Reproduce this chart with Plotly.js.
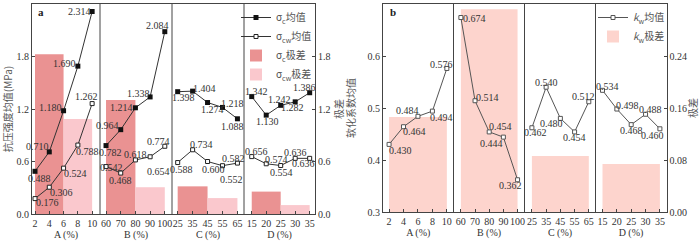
<!DOCTYPE html>
<html><head><meta charset="utf-8">
<script src="https://cdn.plot.ly/plotly-3.0.1.min.js"></script>
<style>html,body{margin:0;padding:0;background:#fff}#chart{width:700px;height:242px}</style>
</head><body><div id="chart"></div>
<script>
// ---- data ----
const levelsA = [2, 4, 6, 8, 10];
const levelsB = [60, 70, 80, 90, 100];
const levelsC = [25, 35, 45, 55, 65];
const levelsD = [15, 20, 25, 30, 35];
const factorNames = ['A (%)', 'B (%)', 'C (%)', 'D (%)'];

const scMeanA = [0.488, 0.710, 1.180, 1.690, 2.314];
const scMeanB = [0.782, 0.964, 1.214, 1.338, 2.084];
const scMeanC = [1.398, 1.404, 1.274, 1.218, 1.088];
const scMeanD = [1.342, 1.130, 1.242, 1.282, 1.386];

const scwMeanA = [0.176, 0.306, 0.524, 0.788, 1.262];
const scwMeanB = [0.542, 0.468, 0.618, 0.654, 0.774];
const scwMeanC = [0.588, 0.734, 0.600, 0.552, 0.582];
const scwMeanD = [0.656, 0.574, 0.554, 0.636, 0.636];

const kwMeanA = [0.430, 0.464, 0.484, 0.494, 0.576];
const kwMeanB = [0.674, 0.514, 0.454, 0.444, 0.362];
const kwMeanC = [0.462, 0.540, 0.480, 0.454, 0.512];
const kwMeanD = [0.534, 0.498, 0.468, 0.488, 0.460];

const scRange = [1.826, 1.302, 0.316, 0.256];
const scwRange = [1.086, 0.306, 0.182, 0.102];
const kwRange = [0.146, 0.312, 0.086, 0.074];

// ---- label offsets in px (style only): [dx, dy(down)] ----
const scOff = [
  [[4,7],[-12,-5],[-13,-3],[-13,-3],[-13,0]],
  [[4,7],[-13,-4],[-14,0],[-12,-3],[-7,-6]],
  [[6,6],[12,-3],[5,7],[10,-4],[-5,8]],
  [[5,-5],[1,6],[-1,-6],[-3,6],[-5,-5]]];
const scwOff = [
  [[12,4],[12,5],[12,5],[10,6],[-6,-7]],
  [[5,1],[0,7],[0,-5],[8,15],[-6,-5]],
  [[4,7],[9,-5],[6,8],[9,14],[-4,-5]],
  [[5,-5],[10,-4],[1,7],[0,-6],[-6,5]]];
const kwOff = [
  [[11,6],[11,5],[-10,-6],[9,6],[-5,-4]],
  [[14,1],[12,-3],[11,-5],[-12,6],[-7,6]],
  [[4,5],[0,-5],[-9,5],[0,6],[-5,-5]],
  [[5,-4],[11,-4],[0,6],[5,-5],[-7,7]]];

const levels = [levelsA, levelsB, levelsC, levelsD];
const scMean = [scMeanA, scMeanB, scMeanC, scMeanD];
const scwMean = [scwMeanA, scwMeanB, scwMeanC, scwMeanD];
const kwMean = [kwMeanA, kwMeanB, kwMeanC, kwMeanD];

const FONT = "'Liberation Serif', 'Noto Sans CJK SC', serif";
const CJK = "'Noto Sans CJK SC', sans-serif";
const DARK = 'rgb(234,146,146)';
const LIGHT = 'rgb(250,200,205)';
const PEACH = 'rgb(253,212,205)';
const INK = '#333';
const AX = '#444';

const W = 700, H = 242;
const px = v => v / W, py = v => 1 - v / H;

// panel geometry in pixels
const aEdges = [32, 100, 172, 244, 315];
const bEdges = [383, 453.5, 524.5, 595.5, 666.5];
const aRanges = [[1.58, 11.1], [55.9, 104.9], [21.2, 69.4], [12.33, 36.84]];
const bRanges = [[1.16, 10.92], [54.8, 104.9], [19.8, 69.7], [12.56, 37.3]];

const lineTraces = [], barTraces = [];
const annotations = [];

function xName(k) { return k === 0 ? 'x' : 'x' + (k + 1); }
function addLabels(xs, ys, offs, xref, yref) {
  xs.forEach((xv, j) => annotations.push({x:xv, y:ys[j], xref:xref, yref:yref, text:ys[j].toFixed(3),
    showarrow:false, xanchor:'center', yanchor:'middle', xshift:offs[j][0], yshift:-offs[j][1],
    font:{family:FONT, size:10, color:INK}}));
}

for (let i = 0; i < 4; i++) {
  const lv = levels[i];
  const xa = xName(i);
  // panel a
  lineTraces.push({type:'scatter', mode:'lines+markers', x:lv, y:scMean[i], xaxis:xa, yaxis:'y2',
    name:'σ<sub>c</sub>均值', legend:'legend', showlegend:i===0, line:{color:INK,width:1},
    marker:{symbol:'square', size:5, color:'#111'}, cliponaxis:false});
  lineTraces.push({type:'scatter', mode:'lines+markers', x:lv, y:scwMean[i], xaxis:xa, yaxis:'y2',
    name:'σ<sub>cw</sub>均值', legend:'legend', showlegend:i===0, line:{color:INK,width:1},
    marker:{symbol:'square', size:4, color:'#fff', line:{color:'#222', width:1}}, cliponaxis:false});
  barTraces.push({type:'bar', x:[lv[1]], y:[scRange[i]], width:[lv[2]-lv[0]], xaxis:xa, yaxis:'y',
    name:'σ<sub>c</sub>极差', legend:'legend', showlegend:i===0, marker:{color:DARK, line:{width:0}}});
  barTraces.push({type:'bar', x:[lv[3]], y:[scwRange[i]], width:[lv[4]-lv[2]], xaxis:xa, yaxis:'y',
    name:'σ<sub>cw</sub>极差', legend:'legend', showlegend:i===0, marker:{color:LIGHT, line:{width:0}}});
  addLabels(lv, scMean[i], scOff[i], xa, 'y2');
  addLabels(lv, scwMean[i], scwOff[i], xa, 'y2');
  // panel b
  const xb = xName(i + 4);
  lineTraces.push({type:'scatter', mode:'lines+markers', x:lv, y:kwMean[i], xaxis:xb, yaxis:'y4',
    name:'<i>k</i><sub>w</sub>均值', legend:'legend2', showlegend:i===0, line:{color:'#555',width:1},
    marker:{symbol:'square', size:4, color:'#fff', line:{color:'#555', width:1}}, cliponaxis:false});
  barTraces.push({type:'bar', x:[lv[2]], y:[kwRange[i]], width:[lv[4]-lv[0]], xaxis:xb, yaxis:'y3',
    name:'<i>k</i><sub>w</sub>极差', legend:'legend2', showlegend:i===0, marker:{color:PEACH, line:{width:0}}});
  addLabels(lv, kwMean[i], kwOff[i], xb, 'y4');
}
const data = [...lineTraces, ...barTraces];

const tickFont = {family:FONT, size:10, color:INK};
const layout = {
  width:W, height:H, margin:{l:0,r:0,t:0,b:0}, paper_bgcolor:'#fff', plot_bgcolor:'rgba(0,0,0,0)',
  barmode:'overlay', showlegend:true, font:{family:FONT, size:10, color:INK},
  shapes:[], annotations:annotations
};

function xAxisDef(edges, k, range, lv, title, anchor) {
  return {domain:[px(edges[k]), px(edges[k+1])], range:range, anchor:anchor,
    tickvals:lv, ticktext:lv.map(String), tickangle:0, ticks:'inside', ticklen:3, tickcolor:AX, tickwidth:1,
    showline:true, linecolor:AX, linewidth:1, mirror:true, showgrid:false, zeroline:false,
    tickfont:tickFont, title:{text:title, font:{family:FONT,size:10,color:INK}, standoff:2}, automargin:false};
}
for (let i = 0; i < 4; i++) {
  layout[i === 0 ? 'xaxis' : 'xaxis' + (i+1)] = xAxisDef(aEdges, i, aRanges[i], levels[i], factorNames[i], 'y');
  layout['xaxis' + (i+5)] = xAxisDef(bEdges, i, bRanges[i], levels[i], factorNames[i], 'y3');
}
const aDom = [py(214), py(4)], bDom = [py(212), py(4)];
function yAxisDef(dom, range, dtick, fmt, side, anchor, title, standoff, overlay) {
  const o = {domain:dom, range:range, dtick:dtick, tick0:range[0], tickformat:fmt, side:side, anchor:anchor,
    ticks:'inside', ticklen:3, tickcolor:AX, showline:true, linecolor:AX, linewidth:1,
    showgrid:false, zeroline:false, tickfont:tickFont, automargin:false,
    title:{text:title, font:{family:CJK, size:10, color:'#555'}, standoff:standoff}};
  if (overlay) o.overlaying = overlay;
  return o;
}
layout.yaxis  = yAxisDef(aDom, [0, 2.4], 0.6, '.1f', 'right', 'x4', '极差', 0);
layout.yaxis2 = yAxisDef(aDom, [0, 2.4], 0.6, '.1f', 'left', 'x', '抗压强度均值(MPa)', 4, 'y');
layout.yaxis3 = yAxisDef(bDom, [0, 0.32], 0.08, '.2f', 'right', 'x8', '极差', 4);
layout.yaxis4 = yAxisDef(bDom, [0.3, 0.7], 0.1, '.1f', 'left', 'x5', '软化系数均值', 10, 'y3');

// separators between factor sub-panels
[[aEdges, 214], [bEdges, 212]].forEach(([e, bot]) => {
  for (let k = 1; k < 4; k++) layout.shapes.push({type:'line', xref:'paper', yref:'paper',
    x0:px(e[k]), x1:px(e[k]), y0:py(bot), y1:py(4), line:{color:AX, width:1}});
});

layout.legend = {x:px(236), y:py(3), xanchor:'left', yanchor:'top', bgcolor:'rgba(0,0,0,0)',
  font:{family:CJK, size:10, color:'#555'}, traceorder:'normal', tracegroupgap:0, itemwidth:30};
layout.legend2 = {x:px(593), y:py(3), xanchor:'left', yanchor:'top', bgcolor:'rgba(0,0,0,0)',
  font:{family:CJK, size:10, color:'#555'}, traceorder:'normal', tracegroupgap:0, itemwidth:30};

annotations.push({xref:'paper', yref:'paper', x:px(36), y:py(4), xanchor:'left', yanchor:'top',
  text:'<b>a</b>', showarrow:false, font:{family:FONT, size:11, color:'#222'}});
annotations.push({xref:'paper', yref:'paper', x:px(388), y:py(4), xanchor:'left', yanchor:'top',
  text:'<b>b</b>', showarrow:false, font:{family:FONT, size:11, color:'#222'}});

Plotly.newPlot('chart', data, layout, {staticPlot:true, displayModeBar:false});
</script></body></html>
